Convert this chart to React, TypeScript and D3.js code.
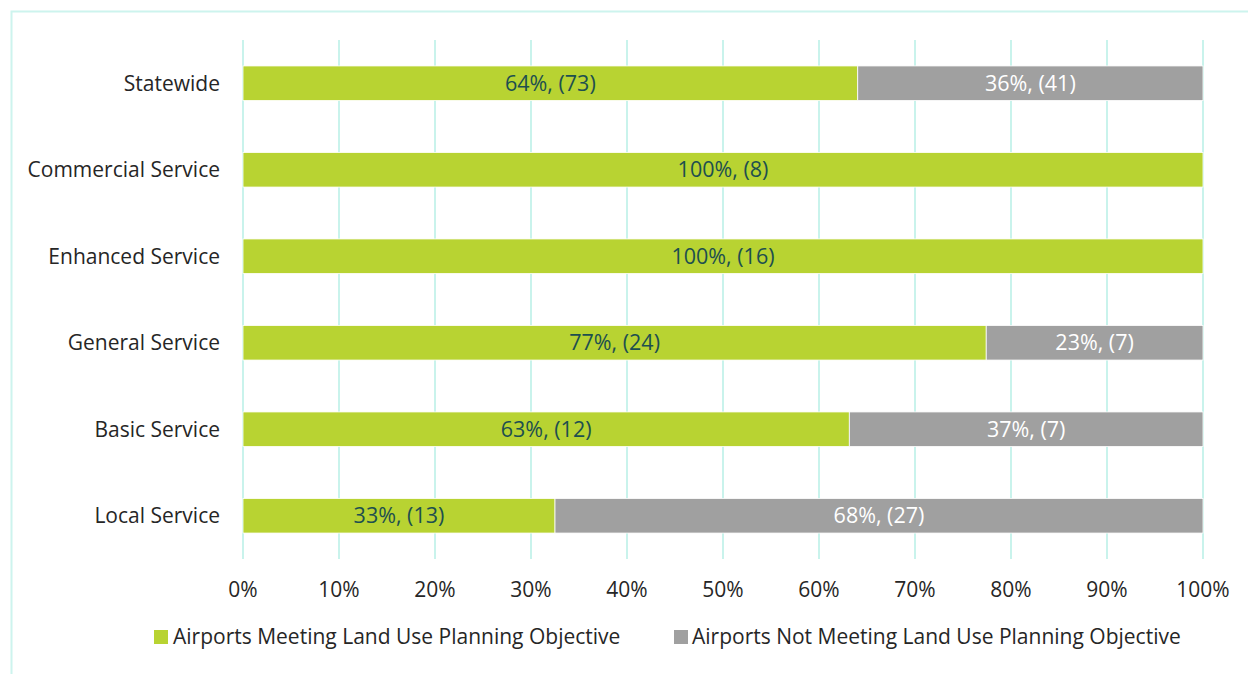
import React from "react";
import * as d3 from "d3";

const categories = [
  "Statewide",
  "Commercial Service",
  "Enhanced Service",
  "General Service",
  "Basic Service",
  "Local Service",
];
const meetingCount = [73, 8, 16, 24, 12, 13];
const notMeetingCount = [41, 0, 0, 7, 7, 27];
const meetingLabel = ["64%", "100%", "100%", "77%", "63%", "33%"];
const notMeetingLabel = ["36%", "", "", "23%", "37%", "68%"];
const tickValues = [0, 0.1, 0.2, 0.3, 0.4, 0.5, 0.6, 0.7, 0.8, 0.9, 1];
const seriesNames = [
  "Airports Meeting Land Use Planning Objective",
  "Airports Not Meeting Land Use Planning Objective",
];

const GREEN = "#b8d332";
const GRAY = "#a0a0a0";
const GRID = "#c9f3ec";
const FONT = "'Open Sans', sans-serif";

export default function App() {
  const W = 1248;
  const H = 674;
  const x = d3.scaleLinear().domain([0, 1]).range([243, 1203]);
  const y = d3.scaleBand().domain(categories).range([40, 559]).paddingInner(0.6).paddingOuter(0.3);

  return (
    <svg width={W} height={H} style={{ position: "absolute", left: 0, top: 0 }} fontFamily={FONT}>
      <rect x={0} y={0} width={W} height={H} fill="#fff" />
      {/* frame */}
      <rect x={11.5} y={11.5} width={W + 20} height={H + 20} fill="none" stroke="#cdf4ee" strokeWidth={2} />

      {/* gridlines */}
      {tickValues.map((t) => (
        <line key={t} x1={x(t)} x2={x(t)} y1={40} y2={559} stroke={GRID} strokeWidth={2} />
      ))}

      {categories.map((c, i) => {
        const total = meetingCount[i] + notMeetingCount[i];
        const share = meetingCount[i] / total;
        const y0 = y(c)!;
        const bh = y.bandwidth();
        const cy = y0 + bh / 2;
        return (
          <g key={c}>
            <rect x={x(0)} y={y0} width={x(share) - x(0)} height={bh} fill={GREEN} stroke="#fff" strokeWidth={0.8} />
            {notMeetingCount[i] > 0 && (
              <rect x={x(share)} y={y0} width={x(1) - x(share)} height={bh} fill={GRAY} stroke="#fff" strokeWidth={0.8} />
            )}
            <text x={(x(0) + x(share)) / 2} y={cy} dy="0.35em" textAnchor="middle" fontSize={21.5} fill="#1d4f4f">
              {`${meetingLabel[i]}, (${meetingCount[i]})`}
            </text>
            {notMeetingCount[i] > 0 && (
              <text x={(x(share) + x(1)) / 2} y={cy} dy="0.35em" textAnchor="middle" fontSize={21.5} fill="#fff">
                {`${notMeetingLabel[i]}, (${notMeetingCount[i]})`}
              </text>
            )}
            <text x={220} y={cy} dy="0.35em" textAnchor="end" fontSize={21} fill="#262626">
              {c}
            </text>
          </g>
        );
      })}

      {/* x tick labels */}
      {tickValues.map((t) => (
        <text key={t} x={x(t)} y={590} dy="0.35em" textAnchor="middle" fontSize={21} fill="#262626">
          {d3.format(".0%")(t)}
        </text>
      ))}

      {/* legend */}
      <rect x={154} y={630} width={14} height={14} fill={GREEN} />
      <text x={173} y={637} dy="0.35em" fontSize={21} fill="#262626">{seriesNames[0]}</text>
      <rect x={674} y={630} width={14} height={14} fill={GRAY} />
      <text x={692} y={637} dy="0.35em" fontSize={21} fill="#262626">{seriesNames[1]}</text>
    </svg>
  );
}
